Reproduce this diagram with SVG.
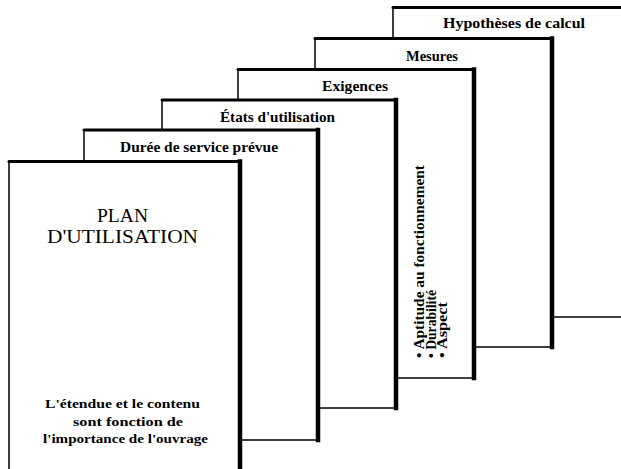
<svg xmlns="http://www.w3.org/2000/svg" width="621" height="469" viewBox="0 0 621 469">
<style>
.card{fill:#fff;stroke:#000;stroke-width:1.5}
.top{fill:none;stroke:#000;stroke-width:3;stroke-linecap:round}
.right{fill:none;stroke:#000;stroke-width:4.5;stroke-linecap:square}
.hd{font-family:"Liberation Serif","Times New Roman",serif;font-weight:bold;font-size:14px;fill:#000;text-anchor:middle}
.title{font-family:"Liberation Serif","Times New Roman",serif;font-size:18.5px;fill:#000;text-anchor:middle}
.note{font-family:"Liberation Serif","Times New Roman",serif;font-weight:bold;font-size:13px;fill:#000;text-anchor:middle}
.item{font-family:"Liberation Serif","Times New Roman",serif;font-weight:bold;font-size:14px;fill:#000}
</style>
<rect width="621" height="469" fill="#fff"/>
<g id="card-hypotheses">
<rect class="card" x="393" y="7.5" width="239" height="309.5"/>
<path class="top" d="M393 7.5H632"/>
<text class="hd" x="514" y="28" textLength="142" lengthAdjust="spacingAndGlyphs">Hypothèses de calcul</text>
</g>
<g id="card-mesures">
<rect class="card" x="315" y="38.5" width="237" height="308.5"/>
<path class="top" d="M315 38.5H552"/>
<path class="right" d="M552 38.5V347"/>
<text class="hd" x="432" y="61" textLength="52" lengthAdjust="spacingAndGlyphs">Mesures</text>
</g>
<g id="card-exigences">
<rect class="card" x="238" y="69.5" width="236" height="308.5"/>
<path class="top" d="M238 69.5H474"/>
<path class="right" d="M474 69.5V378"/>
<text class="hd" x="355" y="91" textLength="66" lengthAdjust="spacingAndGlyphs">Exigences</text>
<text class="item" transform="translate(424,358) rotate(-90)" textLength="193" lengthAdjust="spacingAndGlyphs">• Aptitude au fonctionnement</text>
<text class="item" transform="translate(436,358) rotate(-90)" textLength="68" lengthAdjust="spacingAndGlyphs">• Durabilité</text>
<text class="item" transform="translate(447,358) rotate(-90)" textLength="56" lengthAdjust="spacingAndGlyphs">• Aspect</text>
</g>
<g id="card-etats">
<rect class="card" x="162" y="100" width="234" height="308"/>
<path class="top" d="M162 100H396"/>
<path class="right" d="M396 100V408"/>
<text class="hd" x="277.5" y="122" textLength="115" lengthAdjust="spacingAndGlyphs">États d'utilisation</text>
</g>
<g id="card-duree">
<rect class="card" x="84" y="130" width="234" height="310"/>
<path class="top" d="M84 130H318"/>
<path class="right" d="M318 130V440"/>
<text class="hd" x="199" y="152" textLength="158" lengthAdjust="spacingAndGlyphs">Durée de service prévue</text>
</g>
<g id="card-plan">
<rect class="card" x="9" y="161.5" width="231" height="320"/>
<path class="top" d="M9 161.5H240"/>
<path class="right" d="M240 161.5V481"/>
<text class="title" x="122.5" y="222" textLength="51" lengthAdjust="spacingAndGlyphs">PLAN</text>
<text class="title" x="122.5" y="243" textLength="151" lengthAdjust="spacingAndGlyphs">D'UTILISATION</text>
<text class="note" x="122.5" y="408" textLength="155" lengthAdjust="spacingAndGlyphs">L'étendue et le contenu</text>
<text class="note" x="128" y="426" textLength="110" lengthAdjust="spacingAndGlyphs">sont fonction de</text>
<text class="note" x="125.5" y="443" textLength="165" lengthAdjust="spacingAndGlyphs">l'importance de l'ouvrage</text>
</g>
<g id="connectors"></g>
</svg>
